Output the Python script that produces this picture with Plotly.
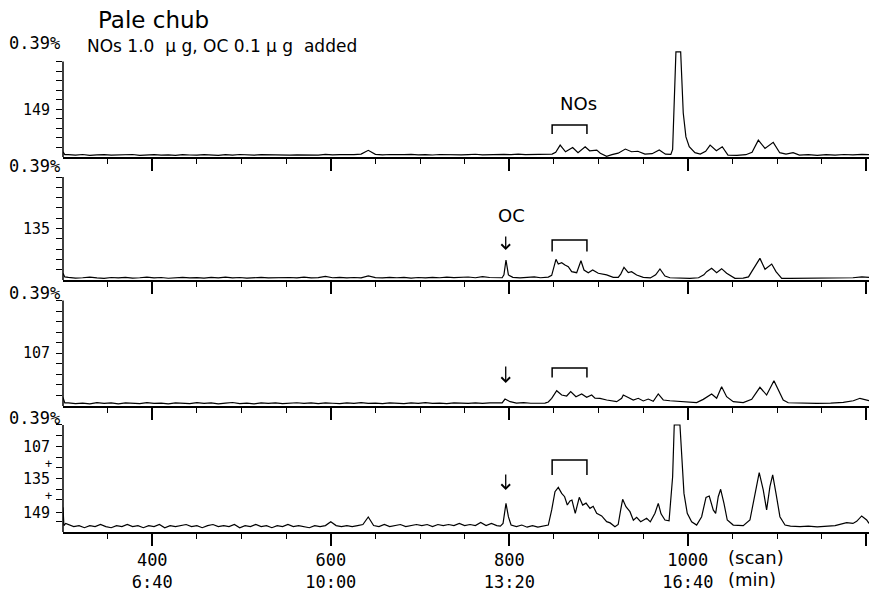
"""Pale chub mass chromatograms (4 stacked ion traces) with Plotly"""

import plotly.graph_objects as go

FIG_W, FIG_H = 869, 594
LEFT = 63
SCAN_RANGE = [300, 1203]

# x axis ticks (scan number / retention time)
major_scans = [400, 600, 800, 1000, 1200]
major_labels = ["400<br>6:40", "600<br>10:00", "800<br>13:20",
                "1000<br>16:40", ""]
minor_scans = [350, 450, 500, 550, 650, 700, 750, 850, 900, 950,
               1050, 1100, 1150]

# y ticks (% of full scale) and ion labels (m/z) for each panel
y_ticks = [[10, 20, 30, 40, 50, 60, 70, 80, 90, 100]] * 3 + \
          [[10, 18, 30, 40, 50, 60, 70, 80, 90, 100]]
ion_labels = [{50: "149"}, {50: "135"}, {50: "107"},
              {80: "107", 50: "135", 18: "149"}]
full_scale = "0.39%"
nos_window = [848, 887]
oc_scan = 796

# ---- panel 1 (m/z 149), intensity in % of full scale ----
p1_start_scan = [300, 302]
p1_start_val = [5.5, 2.5]
p1_base_scan = list(range(306, 843, 8))
p1_base_val = [2.4, 2, 2.6, 1.8, 2.2, 2.5, 1.9, 2.3, 2, 2.6,
               1.8, 2.2, 2.5, 2, 2.3, 1.8, 2.4, 2.1, 1.9, 2.5,
               2.2, 1.8, 2.4, 2, 2.6, 2.1, 1.9, 2.4, 2.2, 2,
               2.5, 1.9, 2.3, 2.1, 2.6, 2, 2.8, 2.2, 2.5, 2.1,
               2.4, 3, 7, 2.8, 2.2, 2.6, 2.1, 2.4, 2.7, 2.2,
               2.5, 2.1, 2.6, 2.3, 2.8, 2.2, 2.5, 2.9, 2.3, 2.6,
               2.2, 2.7, 2.4, 3, 2.5, 2.8, 2.3, 2.7]
p1_peak_scan = [848, 852, 857, 863, 871, 877, 885, 890, 898, 902,
                909, 915, 922, 930, 937, 944, 952, 960, 968, 975,
                981, 983, 984.5, 985.6, 986.7, 992, 993.1, 994.9, 997.9, 1001.6,
                1008, 1014, 1020, 1025, 1032, 1038.6, 1045, 1055, 1065, 1072,
                1079, 1086.5, 1095.7, 1103, 1110, 1118, 1125, 1135, 1145, 1155,
                1165, 1175, 1185, 1195, 1203]
p1_peak_val = [3, 5, 12.5, 5.5, 10, 4.5, 10.7, 6.5, 7.3, 4,
               0.8, 2.5, 4, 8.3, 5.5, 6, 3, 3.5, 7.3, 3,
               2.8, 8, 45, 91, 110, 110, 80, 46, 21, 10.7,
               4.5, 3, 6, 12.5, 6.6, 10.7, 2, 1.8, 2.4, 5,
               17.7, 9, 15.3, 4.5, 3, 4.5, 2, 2.4, 1.8, 2.5,
               2, 2.6, 2.2, 2.8, 2.4]

# ---- panel 2 (m/z 135) ----
p2_start_scan = [300, 302]
p2_start_val = [6.5, 3]
p2_base_scan = list(range(306, 787, 8))
p2_base_val = [2.5, 1.8, 2.2, 2.8, 2, 1.6, 2.4, 2, 2.6, 1.8,
               2.2, 2.8, 2, 2.4, 1.7, 2.2, 2.6, 2, 2.3, 1.8,
               2.5, 2.1, 2.8, 2, 2.4, 1.8, 2.2, 2.6, 2, 2.3,
               1.9, 2.4, 2.1, 2.7, 2, 2.3, 3.5, 2.2, 2.5, 2,
               2.4, 2.1, 4, 2.3, 2, 2.6, 2.2, 2.5, 1.9, 2.4,
               2.1, 2.6, 2.2, 2.8, 2.3, 2.5, 2.9, 2.2, 3.2, 2.4,
               2.2]
p2_peak_scan = [792, 794, 796.3, 799, 804, 812, 820, 828, 835, 841,
                843.7, 847.5, 850, 852.3, 854.9, 858.7, 862.4, 866.1, 869.9, 875.5,
                880.3, 883.7, 888.5, 893.4, 899.7, 909.1, 916.5, 922.1, 925, 928.5,
                933.3, 937, 942.7, 950.1, 958, 964, 968.8, 974.4, 980, 990,
                1002.4, 1012, 1018, 1021.1, 1026.7, 1032.3, 1037.9, 1043.5, 1052.8, 1062,
                1068, 1071.6, 1080.8, 1086.5, 1094, 1098.8, 1105.2, 1115, 1130, 1145,
                1160, 1175, 1185, 1195, 1203]
p2_peak_val = [2.2, 5, 19.4, 4.9, 2.6, 2, 2.5, 3, 2.2, 2.5,
               2.8, 4.5, 12.9, 20.1, 15.5, 16.8, 14.6, 12.9, 8.1, 7.1,
               18.7, 9.7, 7.1, 9.7, 6.5, 4.9, 2.6, 2.5, 6, 12.3,
               7.1, 8, 4.9, 2.6, 2, 5, 10.7, 3.9, 2.2, 2,
               1.5, 2.2, 5, 8.1, 11.3, 7.1, 11, 6.5, 1.6, 1.8,
               3, 8.1, 21, 10.4, 15.5, 8.1, 1.6, 1.6, 1.8, 1.5,
               1.7, 1.8, 2.2, 3, 2.5]

# ---- panel 3 (m/z 107) ----
p3_start_scan = [300, 302]
p3_start_val = [8, 3]
p3_base_scan = list(range(306, 787, 8))
p3_base_val = [3, 2.2, 2.8, 2, 3.2, 2.4, 2.9, 2.1, 3, 2.5,
               2.2, 3.1, 2.4, 2.8, 2, 3, 2.5, 2.2, 3.2, 2.4,
               2.9, 2.1, 2.7, 3.3, 2.3, 2.8, 2.1, 3, 2.5, 2.9,
               2.2, 2.7, 3.1, 2.4, 2.9, 2.2, 3, 2.6, 2.3, 2.9,
               2.5, 3.1, 2.4, 2.8, 2.2, 3, 2.6, 2.3, 2.9, 2.5,
               3.1, 2.4, 2.8, 2.3, 3, 2.6, 2.4, 2.9, 2.5, 3,
               2.6]
p3_peak_scan = [792, 795.2, 801, 808, 816, 824, 832, 840, 843.7, 847.5,
                853.1, 858.7, 864.3, 868.8, 874.7, 881.1, 886.7, 892.3, 896, 901.6,
                909.1, 920.3, 925.9, 927.7, 933.3, 938.9, 944.5, 950.1, 955.7, 961.3,
                966.9, 972.5, 980, 994.9, 1009.9, 1017.3, 1026.7, 1032.3, 1037.9, 1043.5,
                1050.9, 1062.1, 1071.6, 1080.8, 1088.3, 1096.5, 1101.3, 1106.9, 1112.5, 1125,
                1144.3, 1160, 1174.2, 1185.4, 1192.9, 1203]
p3_peak_val = [3, 6.6, 4.1, 2.8, 3.2, 2.6, 3, 2.8, 3.8, 7.3,
               14.5, 10.4, 9.5, 13.6, 8.8, 11.4, 8.2, 10.4, 7.5, 7.3,
               5.7, 4.1, 7.3, 10.4, 8, 5.7, 7.3, 4.8, 6.6, 4.5,
               11.4, 5.7, 5, 4.1, 3.3, 6.3, 11.4, 7.3, 18.3, 8.8,
               4.1, 3.3, 6.3, 17.7, 10.4, 24, 15.2, 5.7, 3.1, 2.6,
               2.5, 2.8, 3.5, 5, 7.3, 5]

# ---- panel 4 (m/z 107 + 135 + 149) ----
p4_start_scan = [300, 301, 303]
p4_start_val = [23, 6, 8]
p4_base_scan = list(range(306, 787, 6))
p4_base_val = [7, 5, 6, 4, 6, 5, 7, 5, 4, 6,
               5, 7, 5, 6, 4, 6, 5, 7, 4, 6,
               5, 6, 7, 5, 6, 4, 6, 7, 5, 6,
               5, 7, 4, 6, 5, 7, 5, 6, 4, 6,
               5, 7, 5, 6, 5, 4, 6, 5, 6, 9.5,
               6, 5, 6, 5, 6, 7, 14, 6, 5, 7,
               5, 6, 7, 5, 6, 7, 6, 7, 5, 7,
               6, 7, 6, 8, 6, 7, 6, 9, 6, 8,
               6]
p4_peak_scan = [790, 793, 796.3, 799, 802, 808, 814, 820, 826, 832,
                838, 843.7, 847.5, 851.2, 854.9, 858.7, 862, 865, 868, 870.2,
                873.9, 878.4, 882.2, 886, 890.4, 894, 897.9, 903.5, 909.1, 913,
                918.4, 922, 924.8, 927, 930.7, 935.2, 939, 942.7, 947.2, 953.9,
                958, 963.2, 966.9, 970, 974.4, 979, 983, 984.8, 991.2, 993.1,
                995.7, 999.4, 1004.3, 1009.9, 1015.5, 1020.4, 1024, 1028.5, 1031.2, 1034.1,
                1036.8, 1040.5, 1044.2, 1050.9, 1062.1, 1069.6, 1075.2, 1080, 1084.5, 1088.3,
                1092, 1095.1, 1098.8, 1103.2, 1108.9, 1115, 1125.7, 1135, 1145, 1155,
                1165, 1178, 1185, 1189.2, 1194.8, 1200.4, 1203]
p4_peak_val = [5.5, 8, 26.8, 14.3, 6.5, 5, 6.5, 4.5, 6, 4.5,
               5.5, 6.5, 20.6, 37.7, 41.7, 36.1, 33, 25.2, 29, 29.9,
               17.4, 32.4, 25.2, 27, 22.1, 24, 17.4, 15, 9.7, 8.5,
               5, 7, 20.6, 30.5, 23.7, 19, 11, 13.7, 9.6, 12.8,
               9.5, 17.5, 26.8, 17, 11.2, 10.5, 51.7, 100, 100, 67.3,
               36.1, 17.4, 9.6, 6.5, 14.3, 32.4, 33.6, 20.6, 17.4, 33,
               39.9, 26.8, 11.2, 6.5, 5.9, 11.2, 36.1, 55.4, 39.3, 20.6,
               42.4, 53.3, 36.1, 14.3, 6.5, 5.5, 5, 5.5, 4.8, 5.5,
               6, 8.7, 8, 10, 15, 11.2, 8]

traces = [
    (p1_start_scan + p1_base_scan + p1_peak_scan,
     p1_start_val + p1_base_val + p1_peak_val),
    (p2_start_scan + p2_base_scan + p2_peak_scan,
     p2_start_val + p2_base_val + p2_peak_val),
    (p3_start_scan + p3_base_scan + p3_peak_scan,
     p3_start_val + p3_base_val + p3_peak_val),
    (p4_start_scan + p4_base_scan + p4_peak_scan,
     p4_start_val + p4_base_val + p4_peak_val),
]

# panel geometry in pixels: (axis bottom, 100% level, y range top)
panels = [(157, 61.5, 112), (280, 177, 101.5),
          (406, 300.5, 101.5), (532, 425, 101.5)]


def px_x(x):
    return x / FIG_W


def px_y(y):
    return 1 - y / FIG_H


MONO = "DejaVu Sans Mono"
SANS = "DejaVu Sans"

fig = go.Figure()
axes = {}
shapes = []
for i, ((scans, vals), (base, top, ymax)) in enumerate(zip(traces, panels)):
    s = '' if i == 0 else str(i + 1)
    fig.add_trace(go.Scatter(x=scans, y=vals, mode='lines',
                             line={'color': 'black', 'width': 1.2},
                             xaxis='x' + s, yaxis='y' + s, hoverinfo='skip'))
    span = base - top
    yvals = y_ticks[i]
    axes['xaxis' + s] = dict(
        domain=[px_x(LEFT), 1], range=SCAN_RANGE, anchor='y' + s,
        automargin=False,
        showline=True, linecolor='black', linewidth=1.5,
        ticks='outside', ticklen=12, tickwidth=1.5, tickcolor='black',
        tickmode='array', tickvals=major_scans, ticktext=major_labels,
        showticklabels=(i == 3),
        tickfont={'family': MONO, 'size': 17, 'color': 'black'},
        showgrid=False, zeroline=False,
        minor=dict(tickmode='array', tickvals=minor_scans, ticks='outside',
                   ticklen=5, tickwidth=1.2, tickcolor='black',
                   showgrid=False))
    axes['yaxis' + s] = dict(
        domain=[px_y(base), px_y(top - (ymax - 100) * span / 100)],
        range=[0, ymax], anchor='x' + s, showline=False, automargin=False,
        ticks='outside', ticklen=6, tickwidth=1.2, tickcolor='black',
        tickmode='array', tickvals=yvals,
        ticktext=[ion_labels[i].get(v, '') for v in yvals],
        tickfont={'family': MONO, 'size': 15, 'color': 'black'},
        ticklabelstandoff=3, showgrid=False, zeroline=False)
    shapes.append(dict(type='line', xref='paper', yref='y' + s,
                       x0=px_x(LEFT), x1=px_x(LEFT), y0=0, y1=100,
                       line={'color': 'black', 'width': 1.5}))

# NOs brackets (scan window, pixel height)
bracket_y = [(125, 134), (240, 251.5), (368, 377.5), (460, 475)]
for y_top, y_leg in bracket_y:
    shapes.append(dict(
        type='path', xref='x', yref='paper',
        path=(f"M {nos_window[0]},{px_y(y_leg)} L {nos_window[0]},{px_y(y_top)} "
              f"L {nos_window[1]},{px_y(y_top)} L {nos_window[1]},{px_y(y_leg)}"),
        line={'color': 'black', 'width': 1.5}))

annotations = [
    dict(text="Pale chub", x=px_x(96), y=px_y(20), xanchor='left',
         font={'family': SANS, 'size': 23}),
    dict(text="NOs 1.0\u00a0\u00a0\u03bc g, OC 0.1 \u03bc g\u00a0\u00a0added",
         x=px_x(85), y=px_y(46), xanchor='left',
         font={'family': SANS, 'size': 17}),
    dict(text="NOs", x=877, xref='x', y=px_y(103),
         font={'family': SANS, 'size': 18}),
    dict(text="OC", x=803, xref='x', y=px_y(215),
         font={'family': SANS, 'size': 18}),
    dict(text="(scan)", x=px_x(726), y=px_y(557), xanchor='left',
         font={'family': SANS, 'size': 18}),
    dict(text="(min)", x=px_x(726), y=px_y(579), xanchor='left',
         font={'family': SANS, 'size': 18}),
    dict(text="+", x=px_x(43), y=px_y(464), font={'family': MONO, 'size': 12}),
    dict(text="+", x=px_x(43), y=px_y(496), font={'family': MONO, 'size': 12}),
]
for y in [43, 166, 293, 418]:
    annotations.append(dict(text=full_scale, x=px_x(62), y=px_y(y),
                            xanchor='right',
                            font={'family': MONO, 'size': 17}))

# downward arrows marking the OC peak: (tip y, tail y) in pixels
for tip, tail in [(250, 235), (383, 365), (490, 473)]:
    annotations.append(dict(text="", x=oc_scan, xref='x', y=px_y(tip),
                            showarrow=True, ax=0, ay=tail - tip,
                            arrowhead=4, arrowsize=1.3, arrowwidth=1.3,
                            arrowcolor='black', standoff=0,
                            font={'family': SANS, 'size': 10}))

for a in annotations:
    a.setdefault('xref', 'paper')
    a.setdefault('yref', 'paper')
    a.setdefault('showarrow', False)
    a.setdefault('yanchor', 'middle')
    a['font'].setdefault('color', 'black')

fig.update_layout(
    width=FIG_W, height=FIG_H, margin={'l': 0, 'r': 0, 't': 0, 'b': 0},
    paper_bgcolor='white', plot_bgcolor='white', showlegend=False,
    shapes=shapes, annotations=annotations, **axes)

# the page body has a default 8px margin; drop it so the chart sits at 0,0
fig.write_html("out.html", config={'displayModeBar': False},
               post_script="document.body.style.margin = '0';")
